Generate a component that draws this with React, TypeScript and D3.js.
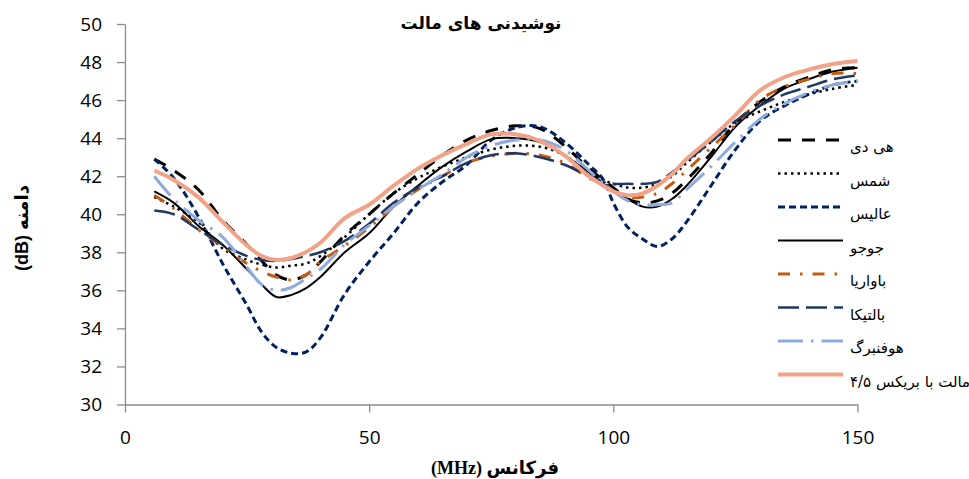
import React, { useEffect, useRef } from 'react';
import * as d3 from 'd3';

const freq = [6, 10, 15, 20, 25, 28, 31, 34, 37, 40, 45, 50, 55, 60, 65, 70, 75, 80, 85, 90, 95, 98, 100, 103, 106, 109, 112, 115, 120, 125, 130, 135, 140, 145, 150];

const hd = [42.9, 42.3, 41.3, 39.7, 38.4, 37.55, 36.8, 36.55, 36.8, 37.5, 38.9, 40.0, 41.1, 42.1, 43.1, 43.9, 44.4, 44.65, 44.5, 43.6, 42.4, 41.8, 41.4, 40.8, 40.6, 40.7, 41.1, 41.8, 43.2, 44.8, 45.9, 46.7, 47.2, 47.6, 47.7];
const shams = [40.9, 40.4, 39.6, 38.2, 37.6, 37.35, 37.2, 37.3, 37.4, 37.8, 38.8, 40.0, 41.1, 41.9, 42.5, 43.0, 43.4, 43.6, 43.55, 43.1, 42.2, 41.8, 41.6, 41.4, 41.4, 41.6, 42.0, 42.7, 43.8, 44.8, 45.4, 45.9, 46.3, 46.6, 46.8];
const alice = [42.9, 41.9, 39.9, 37.4, 35.2, 33.8, 33.0, 32.7, 32.75, 33.5, 35.8, 37.5, 39.0, 40.6, 41.7, 42.6, 43.9, 44.55, 44.6, 43.8, 42.6, 41.8, 40.6, 39.3, 38.7, 38.3, 38.7, 39.6, 41.5, 43.4, 44.9, 45.7, 46.3, 46.8, 47.0];
const juju = [41.2, 40.6, 39.4, 38.4, 37.1, 36.3, 35.65, 35.75, 36.1, 36.7, 38.0, 39.0, 40.4, 41.5, 42.5, 43.3, 43.95, 44.0, 43.8, 43.1, 42.2, 41.6, 41.2, 40.8, 40.4, 40.4, 40.8, 41.5, 43.0, 44.6, 45.7, 46.6, 47.1, 47.5, 47.7];
const bavaria = [41.0, 40.3, 39.2, 38.3, 37.4, 37.0, 36.7, 36.55, 36.8, 37.5, 38.35, 39.3, 40.4, 41.3, 42.0, 42.7, 43.05, 43.2, 43.1, 42.7, 41.9, 41.5, 41.2, 40.9, 40.9, 41.1, 41.6, 42.3, 43.5, 44.7, 46.0, 46.7, 47.1, 47.4, 47.4];
const baltica = [40.2, 40.0, 39.2, 38.4, 37.8, 37.6, 37.55, 37.65, 37.8, 38.0, 38.6, 39.5, 40.6, 41.4, 42.0, 42.7, 43.1, 43.2, 43.0, 42.6, 42.0, 41.7, 41.6, 41.6, 41.6, 41.7, 42.2, 42.8, 43.8, 44.9, 45.7, 46.3, 46.7, 47.1, 47.3];
const hofenberg = [42.0, 40.8, 39.7, 38.8, 37.2, 36.3, 36.0, 36.15, 36.6, 37.1, 38.4, 39.4, 40.4, 41.3, 42.1, 43.0, 43.6, 43.9, 43.9, 43.4, 42.3, 41.6, 41.2, 40.7, 40.5, 40.5, 40.6, 41.3, 42.5, 43.8, 45.0, 45.8, 46.4, 46.8, 47.0];
const maltBrix = [42.3, 41.8, 40.9, 39.6, 38.35, 37.8, 37.6, 37.7, 38.0, 38.5, 39.8, 40.5, 41.5, 42.4, 43.1, 43.7, 44.2, 44.2, 43.85, 43.1, 42.0, 41.5, 41.2, 41.0, 41.1, 41.5, 42.1, 42.9, 44.0, 45.2, 46.5, 47.2, 47.6, 47.9, 48.05];

const seriesNames = ['هی دی', 'شمس', 'عالیس', 'جوجو', 'باواریا', 'بالتیکا', 'هوفنبرگ', 'مالت با بریکس ۴/۵'];
const seriesValues = [hd, shams, alice, juju, bavaria, baltica, hofenberg, maltBrix];
const seriesColors = ['#000000', '#000000', '#002060', '#000000', '#C55A11', '#203864', '#8FAADC', '#F2A286'];
const seriesWidths = [3, 2.5, 3, 2, 3, 2.5, 3, 4];
const seriesDash = ['13 11', '2.5 4', '7 4', '', '12 10 2.5 10', '21 7', '25 8 2.5 8', ''];

const yTicks = [30, 32, 34, 36, 38, 40, 42, 44, 46, 48, 50];
const xTicks = [0, 50, 100, 150];

const title = 'نوشیدنی های مالت';
const xLabel = '(MHz) فرکانس';
const yLabel = '(dB) دامنه';

export default function App() {
  const ref = useRef<SVGSVGElement>(null);
  const W = 969, H = 479;
  const left = 125, right = 857.5, top = 24, bottom = 404.5;

  useEffect(() => {
    const svg = d3.select(ref.current);
    svg.selectAll('*').remove();
    const x = d3.scaleLinear().domain([0, 150]).range([left, right]);
    const y = d3.scaleLinear().domain([30, 50]).range([bottom, top]);

    const yAxis = svg.append('g').attr('transform', `translate(${left},0)`)
      .call(d3.axisLeft(y).tickValues(yTicks).tickSize(8).tickSizeOuter(0).tickPadding(15).tickFormat(d3.format('d')));
    const xAxis = svg.append('g').attr('transform', `translate(0,${bottom})`)
      .call(d3.axisBottom(x).tickValues(xTicks).tickSize(8).tickSizeOuter(0).tickPadding(18).tickFormat(d3.format('d')));
    [yAxis, xAxis].forEach(g => {
      g.selectAll('path.domain').attr('stroke', '#8c8c8c').attr('stroke-width', 1.3);
      g.selectAll('.tick line').attr('stroke', '#8c8c8c').attr('stroke-width', 1.3);
      g.selectAll('.tick text').attr('font-family', '"Open Sans", sans-serif').attr('font-size', 19).attr('fill', '#000');
    });

    const line = d3.line<number>()
      .x((_, i) => x(freq[i]))
      .y(d => y(d))
      .curve(d3.curveCatmullRom.alpha(0.5));

    seriesValues.forEach((vals, i) => {
      svg.append('path')
        .attr('d', line(vals) as string)
        .attr('fill', 'none')
        .attr('stroke', seriesColors[i])
        .attr('stroke-width', seriesWidths[i])
        .attr('stroke-dasharray', seriesDash[i] || null)
        .attr('stroke-linejoin', 'round');
    });

    const lg = svg.append('g');
    seriesNames.forEach((name, i) => {
      const ly = 140 + i * 33.5;
      lg.append('line')
        .attr('x1', 778).attr('x2', 843).attr('y1', ly).attr('y2', ly)
        .attr('stroke', seriesColors[i])
        .attr('stroke-width', seriesWidths[i])
        .attr('stroke-dasharray', seriesDash[i] || null);
      lg.append('text')
        .attr('x', 850).attr('y', ly + 12)
        .attr('font-family', '"DejaVu Sans", sans-serif')
        .attr('font-size', 15)
        .attr('fill', '#000')
        .text(name);
    });

    svg.append('text')
      .attr('x', 481).attr('y', 29).attr('text-anchor', 'middle')
      .attr('font-family', '"DejaVu Sans", sans-serif').attr('font-weight', 'bold').attr('font-size', 17)
      .text(title);
    svg.append('text')
      .attr('x', 495).attr('y', 474).attr('text-anchor', 'middle')
      .attr('font-family', '"Liberation Serif", "DejaVu Sans", serif').attr('font-weight', 'bold').attr('font-size', 18)
      .text(xLabel);
    svg.append('text')
      .attr('transform', 'translate(28,228) rotate(-90)').attr('text-anchor', 'middle')
      .attr('font-family', '"Liberation Sans", "DejaVu Sans", sans-serif').attr('font-weight', 'bold').attr('font-size', 18)
      .text(yLabel);
  }, []);

  return (
    <svg ref={ref} width={W} height={H} style={{ position: 'absolute', left: 0, top: 0, background: '#fff' }} />
  );
}
